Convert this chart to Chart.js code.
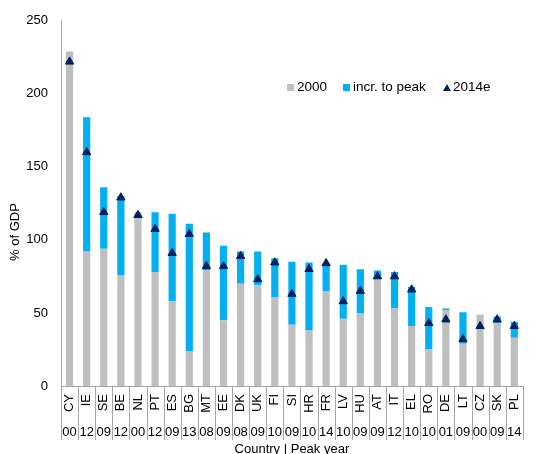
<!DOCTYPE html>
<html>
<head>
<meta charset="utf-8">
<script src="https://cdn.jsdelivr.net/npm/chart.js@4.4.1/dist/chart.umd.min.js"></script>
<style>
  body { margin: 0; background: #fff; }
  #wrap { position: relative; width: 538px; height: 454px; font-family: "Liberation Sans", Arial, sans-serif; }
  .leg { position: absolute; top: 79px; font-size: 13.5px; line-height: 16px; color: #000; white-space: nowrap; }
  .sq { display: inline-block; width: 7px; height: 7px; margin-right: 3px; }
  .tri { display: inline-block; width: 0; height: 0; border-left: 4px solid transparent; border-right: 4px solid transparent; border-bottom: 7px solid #002060; margin-right: 2px; }
</style>
</head>
<body>
<div id="wrap">
  <canvas id="chart" width="538" height="454"></canvas>
  <div class="leg" style="left:287px"><span class="sq" style="background:#bfbfbf"></span>2000</div>
  <div class="leg" style="left:343px"><span class="sq" style="background:#00b0f0"></span>incr. to peak</div>
  <div class="leg" style="left:443px"><span class="tri"></span>2014e</div>
</div>
<script>
// Dati
const countries = ['CY','IE','SE','BE','NL','PT','ES','BG','MT','EE','DK','UK','FI','SI','HR','FR','LV','HU','AT','IT','EL','RO','DE','LT','CZ','SK','PL'];
const peakYears = ['00','12','09','12','00','12','09','13','08','09','08','09','10','09','10','14','10','09','09','12','10','10','01','09','00','09','14'];
const debt2000 = [229, 92, 94, 76, 119, 78, 58, 24, 79, 45, 70, 69, 61, 42, 38, 65, 46, 50, 73, 53, 41, 25, 52, 29, 49, 43, 33];
const incrToPeak = [0, 92, 42, 54, 0, 41, 60, 87, 26, 51, 22, 23, 26.5, 43, 46.5, 19, 37, 30, 6, 25, 27, 29, 1, 21.5, 0, 4.5, 11];
const est2014 = [222, 160, 119, 129, 117, 107.5, 91, 104, 82, 82, 89, 73, 84.5, 63, 80, 84, 58, 65, 75, 75, 66, 43, 45.5, 32, 41, 45.5, 41];
const yTicks = [0, 50, 100, 150, 200, 250];

const FONT = '"Liberation Sans", Arial, sans-serif';

// Separatori sotto l'asse x e titolo dell'asse y
const extrasPlugin = {
    id: 'extras',
    afterDraw(chart) {
        const ctx = chart.ctx;
        const xs = chart.scales.x, x2 = chart.scales.x2;
        const n = countries.length;
        const w = (xs.right - xs.left) / n;
        ctx.save();
        ctx.strokeStyle = '#a6a6a6';
        ctx.lineWidth = 1;
        ctx.beginPath();
        for (let i = 0; i <= n; i++) {
            const px = Math.round(xs.left + i * w) + 0.5;
            ctx.moveTo(px, xs.top);
            ctx.lineTo(px, x2.top + 20);
        }
        ctx.stroke();
        ctx.translate(15, 232);
        ctx.rotate(-Math.PI / 2);
        ctx.font = '13px ' + FONT;
        ctx.fillStyle = '#000';
        ctx.textAlign = 'center';
        ctx.textBaseline = 'middle';
        ctx.fillText('% of GDP', 0, 0);
        ctx.restore();
    }
};

new Chart(document.getElementById('chart'), {
    type: 'bar',
    data: {
        labels: countries,
        datasets: [
            { type: 'line', label: '2014e', data: est2014, showLine: false, order: 0,
              pointStyle: 'triangle', pointRadius: 4.8, pointBackgroundColor: '#002060',
              pointBorderColor: '#002060', pointBorderWidth: 1 },
            { label: '2000', data: debt2000, backgroundColor: '#bfbfbf', order: 1,
              barPercentage: 0.42, categoryPercentage: 1 },
            { label: 'incr. to peak', data: incrToPeak, backgroundColor: '#00b0f0', order: 1,
              barPercentage: 0.42, categoryPercentage: 1 }
        ]
    },
    options: {
        responsive: false,
        animation: false,
        devicePixelRatio: 1,
        layout: { padding: { top: 17, right: 0, bottom: 0, left: 0 } },
        plugins: { legend: { display: false }, tooltip: { enabled: false } },
        scales: {
            x: {
                stacked: true,
                grid: { display: false, drawTicks: false },
                border: { display: true, color: '#a6a6a6' },
                ticks: { minRotation: 90, maxRotation: 90, autoSkip: false, padding: 8,
                         color: '#000', font: { family: FONT, size: 13 } },
                afterFit: s => { s.height = 34; }
            },
            x2: {
                type: 'category',
                labels: peakYears,
                position: 'bottom',
                offset: true,
                weight: 1,
                grid: { display: false, drawTicks: false },
                border: { display: false },
                ticks: { maxRotation: 0, autoSkip: false, padding: 4.5,
                         color: '#000', font: { family: FONT, size: 13 } },
                title: { display: true, text: 'Country | Peak year', color: '#000',
                         font: { family: FONT, size: 13 }, padding: { top: 0, bottom: -3 } },
                afterFit: s => { s.height = 34; }
            },
            y: {
                stacked: true,
                min: yTicks[0],
                max: yTicks[yTicks.length - 1],
                grid: { display: false, drawTicks: false },
                border: { display: true, color: '#a6a6a6' },
                ticks: { stepSize: yTicks[1] - yTicks[0], padding: 13,
                         color: '#000', font: { family: FONT, size: 13 } },
                afterFit: s => { s.width = 61; }
            }
        }
    },
    plugins: [extrasPlugin]
});
</script>
</body>
</html>
